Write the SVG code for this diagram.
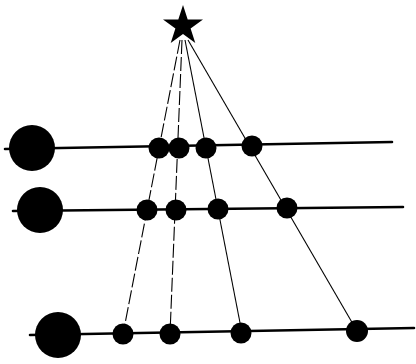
<svg xmlns="http://www.w3.org/2000/svg" width="416" height="364" viewBox="0 0 416 364">
<style>
.axis{stroke:#000;stroke-width:2.6;fill:none;stroke-linecap:round}
.ray{stroke:#000;stroke-width:1.1;fill:none}
.dash{stroke-dasharray:14 3}
.big{fill:#000}
.dot{fill:#000}
</style>
<rect width="416" height="364" fill="#fff"/>
<g id="connectors">
<line class="axis" x1="5" y1="149" x2="392" y2="142"/>
<line class="axis" x1="13" y1="211" x2="403" y2="207"/>
<line class="axis" x1="30" y1="335" x2="414" y2="328"/>
<line class="ray dash" x1="180" y1="40" x2="123" y2="334"/>
<line class="ray dash" x1="182" y1="40" x2="170" y2="334"/>
<line class="ray" x1="185" y1="40" x2="242" y2="333"/>
<line class="ray" x1="188" y1="40" x2="357" y2="331"/>
</g>
<g id="star"><polygon fill="#000" points="183,5 187.7,19.5 203,19.5 190.6,28.5 195.3,43 183,34 170.7,43 175.4,28.5 163,19.5 178.3,19.5"/></g>
<g id="source1"><circle class="big" cx="32" cy="148" r="23"/></g>
<g id="source2"><circle class="big" cx="40" cy="210" r="23"/></g>
<g id="source3"><circle class="big" cx="58" cy="335" r="23"/></g>
<g id="d1a"><circle class="dot" cx="159" cy="148" r="10.5"/></g>
<g id="d1b"><circle class="dot" cx="179" cy="148" r="10.5"/></g>
<g id="d1c"><circle class="dot" cx="206" cy="148" r="10.5"/></g>
<g id="d1d"><circle class="dot" cx="252" cy="146" r="10.5"/></g>
<g id="d2a"><circle class="dot" cx="147" cy="210" r="10.5"/></g>
<g id="d2b"><circle class="dot" cx="176" cy="210" r="10.5"/></g>
<g id="d2c"><circle class="dot" cx="218" cy="209" r="10.5"/></g>
<g id="d2d"><circle class="dot" cx="287" cy="208" r="10.5"/></g>
<g id="d3a"><circle class="dot" cx="123" cy="334" r="10.5"/></g>
<g id="d3b"><circle class="dot" cx="170" cy="334" r="10.5"/></g>
<g id="d3c"><circle class="dot" cx="241" cy="333" r="10.5"/></g>
<g id="d3d"><circle class="dot" cx="357" cy="331" r="11"/></g>
</svg>
